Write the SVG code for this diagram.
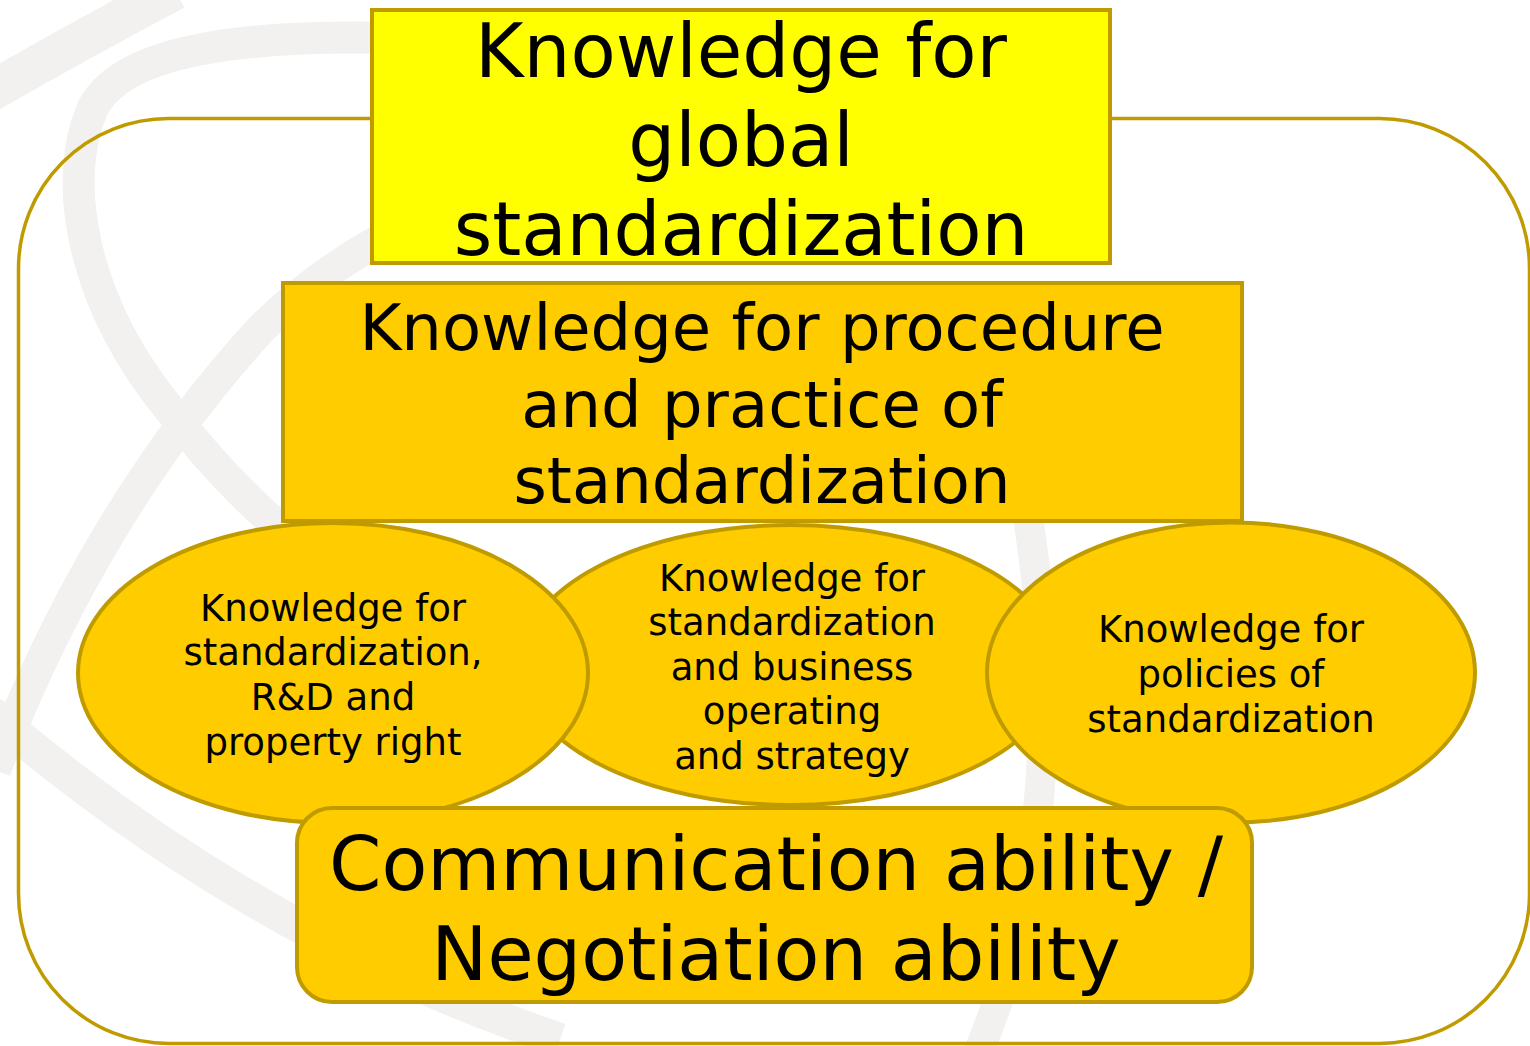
<svg xmlns="http://www.w3.org/2000/svg" width="1530" height="1046" viewBox="0 0 1530 1046">
<style>
.wm{fill:none;stroke:#F2F1EF;stroke-linecap:butt}
.box{stroke:#C09B00;stroke-width:4}
.t{font-family:"DejaVu Sans","Verdana",sans-serif;fill:#000;text-anchor:middle}
</style>
<rect width="1530" height="1046" fill="#FFFFFF"/>
<g id="watermark">
<path class="wm" stroke-width="40" d="M -10,92 Q 80,40 175,-10"/>
<path class="wm" stroke-width="32" d="M 390,38 C 250,35 120,48 92,110 C 62,180 80,300 170,410 C 230,490 290,540 340,575"/>
<path class="wm" stroke-width="32" d="M -5,770 C 60,600 150,450 260,330 C 300,290 340,262 380,240"/>
<path class="wm" stroke-width="34" d="M -10,712 Q 250,935 560,1040"/>
<path class="wm" stroke-width="30" d="M 1025,500 C 1060,700 1045,900 975,1060"/>
</g>
<g id="frame">
<rect x="18.5" y="118.5" width="1511" height="925" rx="150" ry="150" fill="none" stroke="#C09B00" stroke-width="3.5"/>
</g>
<g id="connectors"></g>
<g id="global">
<rect class="box" x="372" y="10" width="738" height="253" fill="#FFFF00"/>
<text class="t" font-size="74"><tspan x="741" y="77">Knowledge for</tspan><tspan x="741" y="166">global</tspan><tspan x="741" y="255">standardization</tspan></text>
</g>
<g id="procedure">
<rect class="box" x="283" y="283" width="959" height="238" fill="#FFCC00"/>
<text class="t" font-size="64"><tspan x="762" y="350">Knowledge for procedure</tspan><tspan x="762" y="426.5">and practice of</tspan><tspan x="762" y="503">standardization</tspan></text>
</g>
<g id="business">
<ellipse class="box" cx="790" cy="665" rx="270" ry="140" fill="#FFCC00"/>
<text class="t" font-size="37"><tspan x="792" y="590.5">Knowledge for</tspan><tspan x="792" y="635">standardization</tspan><tspan x="792" y="679.5">and business</tspan><tspan x="792" y="724">operating</tspan><tspan x="792" y="768.5">and strategy</tspan></text>
</g>
<g id="rnd">
<ellipse class="box" cx="333" cy="673" rx="255" ry="150" fill="#FFCC00"/>
<text class="t" font-size="37"><tspan x="333" y="620.5">Knowledge for</tspan><tspan x="333" y="665">standardization,</tspan><tspan x="333" y="710">R&amp;D and</tspan><tspan x="333" y="755">property right</tspan></text>
</g>
<g id="policies">
<ellipse class="box" cx="1231" cy="672.5" rx="244" ry="150" fill="#FFCC00"/>
<text class="t" font-size="37"><tspan x="1231" y="642">Knowledge for</tspan><tspan x="1231" y="687">policies of</tspan><tspan x="1231" y="732">standardization</tspan></text>
</g>
<g id="communication">
<rect class="box" x="297" y="808" width="955" height="194" rx="35" ry="35" fill="#FFCC00"/>
<text class="t" font-size="75"><tspan x="776" y="890">Communication ability /</tspan><tspan x="776" y="980">Negotiation ability</tspan></text>
</g>
</svg>
